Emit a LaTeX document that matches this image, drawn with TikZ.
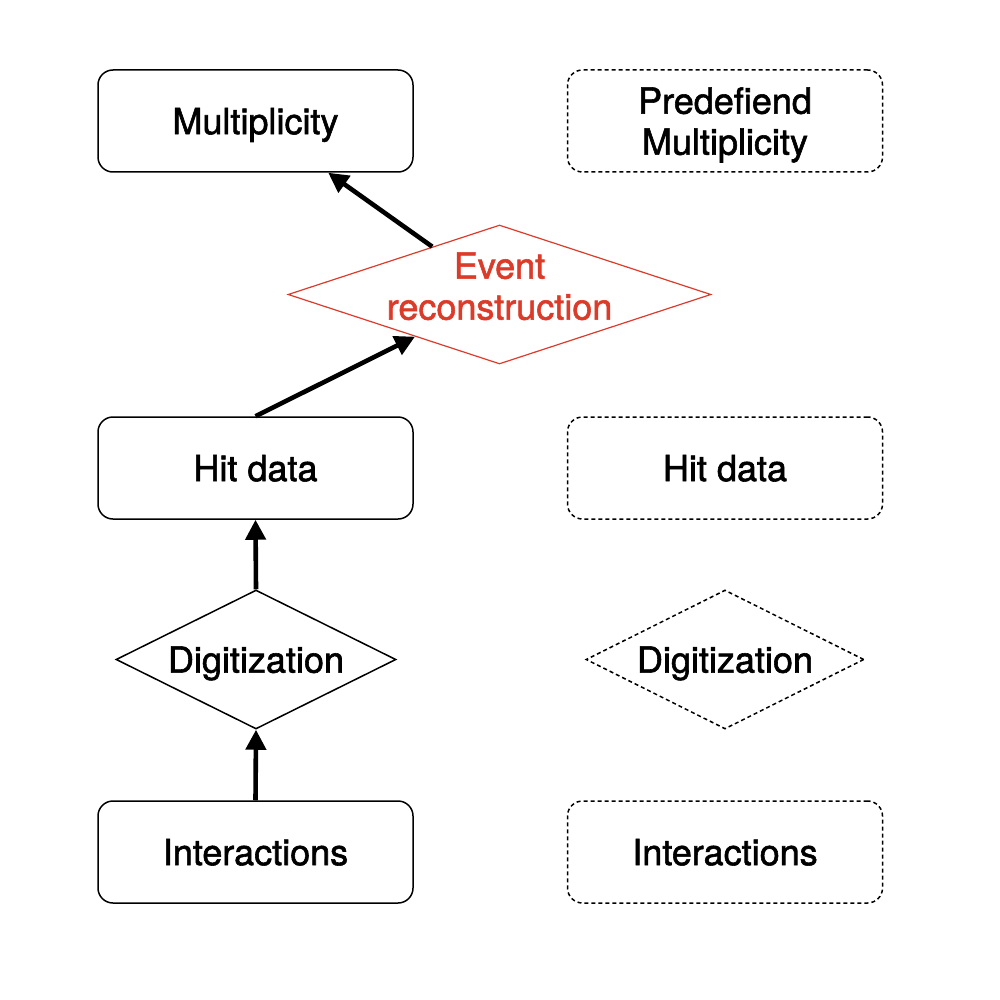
\documentclass[tikz,border=0pt]{standalone}
\usepackage{fontspec}
\setmainfont{TeX Gyre Heros}[FakeBold=1.6]
\usetikzlibrary{shapes.geometric,arrows.meta}
\definecolor{evred}{RGB}{220,59,42}
\begin{document}
\begin{tikzpicture}[x=0.5pt,y=-0.5pt,
  every node/.style={font=\fontsize{18}{20.5}\selectfont, align=center, text depth=0pt},
  box/.style={draw, line width=0.75pt, rounded corners=7.5pt, minimum width=157.5pt, minimum height=51pt, inner sep=0pt},
  dbox/.style={box, dash pattern=on 2pt off 1.5pt},
  dia/.style={draw, diamond, line width=0.75pt, inner sep=0pt, minimum width=140pt, minimum height=69.5pt},
  arr/.style={line width=2.3pt, -{Triangle[length=10pt,width=10pt]}}]
\useasboundingbox (0,0) rectangle (1000,1000);
\node[box] (mult) at (255.5,121) {Multiplicity};
\node[dbox] (pmult) at (725,121) {Predefiend\\Multiplicity};
\node[dia, draw=evred, minimum width=211.5pt, minimum height=69.5pt, line width=0.6pt] (ev) at (499.5,294.5) {};
\node[text=evred] (evt) at (499.5,286) {Event\\reconstruction};
\node[box] (hit) at (255.5,468) {Hit data};
\node[dbox] (hit2) at (725,468) {Hit data};
\node[dia] (dig) at (256,659.5) {};
\node (digt) at (256,659.5) {Digitization};
\node[dia, dash pattern=on 2pt off 1.5pt, minimum width=139pt] (dig2) at (725,659.5) {};
\node (dig2t) at (725,659.5) {Digitization};
\node[box] (int) at (255.5,852) {Interactions};
\node[dbox] (int2) at (725,852) {Interactions};
\draw[arr] (int.north) -- (dig.south);
\draw[arr] (dig.north) -- (hit.south);
\draw[arr] (hit.north) -- (ev);
\draw[arr] (ev) -- (mult);
\end{tikzpicture}
\end{document}
